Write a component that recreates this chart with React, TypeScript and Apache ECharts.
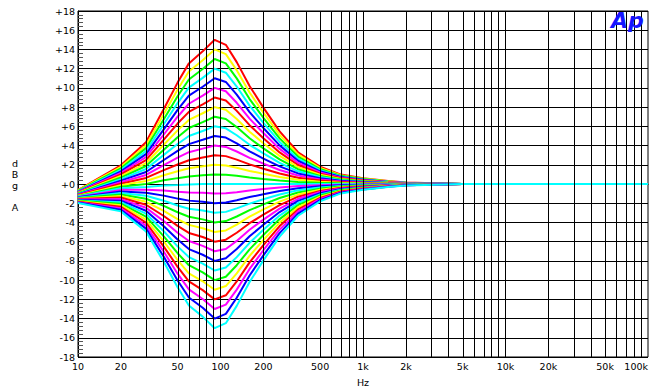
import React, { useEffect, useRef } from "react";
import * as echarts from "echarts";

// Measurement frequencies (Hz)
const FREQS = [10, 20, 30, 40, 50, 60, 75, 91, 109, 130, 160, 200, 260, 350, 500, 700, 1000, 1500, 2000, 5000, 100000];

// EQ gain settings of each trace (dB), drawn in this order
const GAINS = [15, 14, 13, 12, 11, 10, 9, 8, 7, 6, 5, 4, 3, 2, 1, 0, -1, -2, -3, -4, -5, -6, -7, -8, -9, -10, -11, -12, -13, -14, -15];

const COLORS = [
  "#ff0000", "#ffff00", "#00ff00", "#00ffff", "#0000ff", "#ff00ff",
  "#ff0000", "#ffff00", "#00ff00", "#00ffff", "#0000ff", "#ff00ff",
  "#ff0000", "#ffff00", "#00ff00", "#00ffff",
  "#ff00ff", "#0000ff", "#00ffff", "#00ff00", "#ffff00", "#ff0000",
  "#ff00ff", "#0000ff", "#00ffff", "#00ff00", "#ffff00", "#ff0000",
  "#ff00ff", "#0000ff", "#00ffff",
];

// Response level (dB) of each trace at FREQS
const CURVES = [
  [-0.63, 1.95, 4.35, 7.8, 10.55, 12.55, 13.8, 15, 14.48, 12.68, 10.2, 7.95, 5.48, 3.3, 1.8, 0.98, 0.6, 0.3, 0.15, 0, 0],
  [-0.67, 1.79, 4.04, 7.27, 9.84, 11.71, 12.88, 14, 13.51, 11.83, 9.52, 7.42, 5.11, 3.08, 1.68, 0.91, 0.56, 0.28, 0.14, 0, 0],
  [-0.72, 1.63, 3.73, 6.74, 9.13, 10.87, 11.96, 13, 12.55, 10.99, 8.84, 6.89, 4.75, 2.86, 1.56, 0.85, 0.52, 0.26, 0.13, 0, 0],
  [-0.76, 1.47, 3.42, 6.21, 8.42, 10.03, 11.04, 12, 11.58, 10.14, 8.16, 6.36, 4.38, 2.64, 1.44, 0.78, 0.48, 0.24, 0.12, 0, 0],
  [-0.81, 1.31, 3.11, 5.68, 7.71, 9.19, 10.12, 11, 10.62, 9.3, 7.48, 5.83, 4.02, 2.42, 1.32, 0.72, 0.44, 0.22, 0.11, 0, 0],
  [-0.85, 1.15, 2.8, 5.15, 7.0, 8.35, 9.2, 10, 9.65, 8.45, 6.8, 5.3, 3.65, 2.2, 1.2, 0.65, 0.4, 0.2, 0.1, 0, 0],
  [-0.9, 0.99, 2.49, 4.62, 6.29, 7.51, 8.28, 9, 8.69, 7.61, 6.12, 4.77, 3.29, 1.98, 1.08, 0.59, 0.36, 0.18, 0.09, 0, 0],
  [-0.94, 0.83, 2.18, 4.09, 5.58, 6.67, 7.36, 8, 7.72, 6.76, 5.44, 4.24, 2.92, 1.76, 0.96, 0.52, 0.32, 0.16, 0.08, 0, 0],
  [-0.99, 0.67, 1.87, 3.56, 4.87, 5.83, 6.44, 7, 6.76, 5.92, 4.76, 3.71, 2.56, 1.54, 0.84, 0.46, 0.28, 0.14, 0.07, 0, 0],
  [-1.03, 0.51, 1.56, 3.03, 4.16, 4.99, 5.52, 6, 5.79, 5.07, 4.08, 3.18, 2.19, 1.32, 0.72, 0.39, 0.24, 0.12, 0.06, 0, 0],
  [-1.08, 0.35, 1.25, 2.5, 3.45, 4.15, 4.6, 5, 4.83, 4.23, 3.4, 2.65, 1.83, 1.1, 0.6, 0.33, 0.2, 0.1, 0.05, 0, 0],
  [-1.12, 0.19, 0.94, 1.97, 2.74, 3.31, 3.68, 4, 3.86, 3.38, 2.72, 2.12, 1.46, 0.88, 0.48, 0.26, 0.16, 0.08, 0.04, 0, 0],
  [-1.17, 0.03, 0.63, 1.44, 2.03, 2.47, 2.76, 3, 2.9, 2.54, 2.04, 1.59, 1.1, 0.66, 0.36, 0.2, 0.12, 0.06, 0.03, 0, 0],
  [-1.21, -0.13, 0.32, 0.91, 1.32, 1.63, 1.84, 2, 1.93, 1.69, 1.36, 1.06, 0.73, 0.44, 0.24, 0.13, 0.08, 0.04, 0.02, 0, 0],
  [-1.26, -0.29, 0.01, 0.38, 0.61, 0.79, 0.92, 1, 0.97, 0.85, 0.68, 0.53, 0.37, 0.22, 0.12, 0.07, 0.04, 0.02, 0.01, 0, 0],
  [-1.3, -0.45, -0.3, -0.15, -0.1, -0.05, 0, 0, 0, 0, 0, 0, 0, 0, 0, 0, 0, 0, 0, 0, 0],
  [-1.35, -0.61, -0.61, -0.68, -0.81, -0.89, -0.92, -1, -0.97, -0.85, -0.68, -0.53, -0.37, -0.22, -0.12, -0.07, -0.04, -0.02, -0.01, 0, 0],
  [-1.39, -0.77, -0.92, -1.21, -1.52, -1.73, -1.84, -2, -1.93, -1.69, -1.36, -1.06, -0.73, -0.44, -0.24, -0.13, -0.08, -0.04, -0.02, 0, 0],
  [-1.44, -0.93, -1.23, -1.74, -2.23, -2.57, -2.76, -3, -2.9, -2.54, -2.04, -1.59, -1.1, -0.66, -0.36, -0.2, -0.12, -0.06, -0.03, 0, 0],
  [-1.48, -1.09, -1.54, -2.27, -2.94, -3.41, -3.68, -4, -3.86, -3.38, -2.72, -2.12, -1.46, -0.88, -0.48, -0.26, -0.16, -0.08, -0.04, 0, 0],
  [-1.53, -1.25, -1.85, -2.8, -3.65, -4.25, -4.6, -5, -4.83, -4.23, -3.4, -2.65, -1.83, -1.1, -0.6, -0.33, -0.2, -0.1, -0.05, 0, 0],
  [-1.57, -1.41, -2.16, -3.33, -4.36, -5.09, -5.52, -6, -5.79, -5.07, -4.08, -3.18, -2.19, -1.32, -0.72, -0.39, -0.24, -0.12, -0.06, 0, 0],
  [-1.62, -1.57, -2.47, -3.86, -5.07, -5.93, -6.44, -7, -6.76, -5.92, -4.76, -3.71, -2.56, -1.54, -0.84, -0.46, -0.28, -0.14, -0.07, 0, 0],
  [-1.66, -1.73, -2.78, -4.39, -5.78, -6.77, -7.36, -8, -7.72, -6.76, -5.44, -4.24, -2.92, -1.76, -0.96, -0.52, -0.32, -0.16, -0.08, 0, 0],
  [-1.71, -1.89, -3.09, -4.92, -6.49, -7.61, -8.28, -9, -8.69, -7.61, -6.12, -4.77, -3.29, -1.98, -1.08, -0.59, -0.36, -0.18, -0.09, 0, 0],
  [-1.75, -2.05, -3.4, -5.45, -7.2, -8.45, -9.2, -10, -9.65, -8.45, -6.8, -5.3, -3.65, -2.2, -1.2, -0.65, -0.4, -0.2, -0.1, 0, 0],
  [-1.8, -2.21, -3.71, -5.98, -7.91, -9.29, -10.12, -11, -10.62, -9.3, -7.48, -5.83, -4.02, -2.42, -1.32, -0.72, -0.44, -0.22, -0.11, 0, 0],
  [-1.84, -2.37, -4.02, -6.51, -8.62, -10.13, -11.04, -12, -11.58, -10.14, -8.16, -6.36, -4.38, -2.64, -1.44, -0.78, -0.48, -0.24, -0.12, 0, 0],
  [-1.89, -2.53, -4.33, -7.04, -9.33, -10.97, -11.96, -13, -12.55, -10.99, -8.84, -6.89, -4.75, -2.86, -1.56, -0.85, -0.52, -0.26, -0.13, 0, 0],
  [-1.93, -2.69, -4.64, -7.57, -10.04, -11.81, -12.88, -14, -13.51, -11.83, -9.52, -7.42, -5.11, -3.08, -1.68, -0.91, -0.56, -0.28, -0.14, 0, 0],
  [-1.98, -2.85, -4.95, -8.1, -10.75, -12.65, -13.8, -15, -14.48, -12.68, -10.2, -7.95, -5.48, -3.3, -1.8, -0.98, -0.6, -0.3, -0.15, 0, 0],
];

// Axis tick labels
const X_LABEL_FREQS = [10, 20, 50, 100, 200, 500, 1000, 2000, 5000, 10000, 20000, 50000, 100000];
const X_GRID_FREQS = [
  20, 30, 40, 50, 60, 70, 80, 90,
  100, 200, 300, 400, 500, 600, 700, 800, 900,
  1000, 2000, 3000, 4000, 5000, 6000, 7000, 8000, 9000,
  10000, 20000, 30000, 40000, 50000, 60000, 70000, 80000, 90000,
];
const Y_MIN = -18;
const Y_MAX = 18;
const Y_STEP = 2;

const FONT = "'DejaVu Sans', Verdana, sans-serif";

function fmtFreq(v: number): string {
  const f = Math.round(Math.pow(10, v));
  if (f >= 1000) return f / 1000 + "k";
  return String(f);
}

export default function App() {
  const ref = useRef<HTMLDivElement>(null);
  useEffect(() => {
    if (!ref.current) return;
    const chart = echarts.init(ref.current, undefined, { renderer: "svg" });

    const curveSeries = CURVES.map((curve, i) => ({
      type: "line",
      name: (GAINS[i] > 0 ? "+" : "") + GAINS[i] + " dB",
      data: FREQS.map((f, j) => [Math.log10(f), curve[j]]),
      showSymbol: false,
      symbol: "none",
      silent: true,
      z: 3,
      lineStyle: { color: COLORS[i], width: 2 },
      itemStyle: { color: COLORS[i] },
    }));

    const gridSeries = {
      type: "line",
      name: "grid",
      data: [[1, 0], [5, 0]],
      showSymbol: false,
      symbol: "none",
      silent: true,
      z: 1,
      lineStyle: { opacity: 0, width: 0 },
      markLine: {
        silent: true,
        symbol: ["none", "none"],
        label: { show: false },
        lineStyle: { color: "#000", width: 1, type: "solid" },
        data: X_GRID_FREQS.map((f) => ({ xAxis: Math.log10(f) })),
      },
    };

    chart.setOption({
      animation: false,
      backgroundColor: "#fff",
      grid: {
        left: 78,
        right: 1,
        top: 11,
        bottom: 30,
        show: true,
        borderColor: "#000",
        borderWidth: 1,
      },
      xAxis: {
        type: "value",
        min: Math.log10(FREQS[0]),
        max: Math.log10(FREQS[FREQS.length - 1]),
        name: "Hz",
        nameLocation: "middle",
        nameGap: 20,
        nameTextStyle: { color: "#000", fontSize: 9.5, fontFamily: FONT },
        axisLine: { show: true, lineStyle: { color: "#000", width: 1 } },
        axisTick: { show: false, customValues: X_LABEL_FREQS.map((f) => Math.log10(f)) },
        splitLine: { show: false },
        axisLabel: {
          customValues: X_LABEL_FREQS.map((f) => Math.log10(f)),
          formatter: (v: number) => fmtFreq(v),
          color: "#000",
          fontSize: 9.5,
          fontFamily: FONT,
          margin: 4,
          alignMaxLabel: "right",
        },
      },
      yAxis: {
        type: "value",
        min: Y_MIN,
        max: Y_MAX,
        interval: Y_STEP,
        axisLine: { show: true, lineStyle: { color: "#000", width: 1 } },
        axisTick: { show: true, inside: true, length: 5, lineStyle: { color: "#000" } },
        minorTick: { show: true, splitNumber: 5, length: 5, lineStyle: { color: "#555", width: 1 } },
        splitLine: { show: true, lineStyle: { color: "#000", width: 1 } },
        axisLabel: {
          formatter: (v: number) => (v >= 0 ? "+" + v : String(v)),
          color: "#000",
          fontSize: 9.5,
          fontFamily: FONT,
          margin: 3,
        },
      },
      graphic: [
        { type: "text", x: 15, y: 163, style: { text: "d", fill: "#000", fontSize: 9.5, fontFamily: FONT, align: "center", verticalAlign: "middle" } },
        { type: "text", x: 15, y: 174, style: { text: "B", fill: "#000", fontSize: 9.5, fontFamily: FONT, align: "center", verticalAlign: "middle" } },
        { type: "text", x: 15, y: 185, style: { text: "g", fill: "#000", fontSize: 9.5, fontFamily: FONT, align: "center", verticalAlign: "middle" } },
        { type: "text", x: 15, y: 207, style: { text: "A", fill: "#000", fontSize: 9.5, fontFamily: FONT, align: "center", verticalAlign: "middle" } },
        {
          type: "text",
          x: 611,
          y: 9,
          z: 100,
          style: {
            text: "Ap",
            fill: "#1414ff",
            fontSize: 22,
            fontWeight: "bold",
            fontStyle: "italic",
            fontFamily: FONT,
          },
        },
      ],
      series: [gridSeries, ...curveSeries],
    });

    return () => chart.dispose();
  }, []);

  return (
    <div
      ref={ref}
      style={{ position: "absolute", left: 0, top: 0, width: 651, height: 392, background: "#fff" }}
    />
  );
}
